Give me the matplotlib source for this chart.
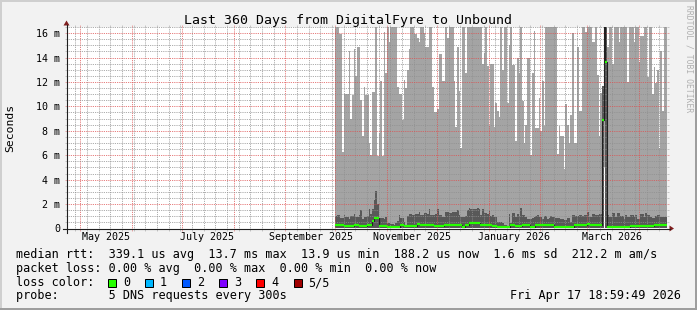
import numpy as np
import matplotlib
matplotlib.use("Agg")
import matplotlib.pyplot as plt
import matplotlib.dates as mdates
import matplotlib.transforms as mtransforms
from matplotlib.patches import Rectangle, Polygon
from matplotlib.lines import Line2D
from matplotlib.ticker import MultipleLocator, FixedLocator
from datetime import datetime

# ---------------- data ----------------
title = "Last 360 Days from DigitalFyre to Unbound"
end_time = datetime(2026, 4, 17, 18, 59, 49)
span_days = 360
data_start = datetime(2025, 10, 1)   # first daily bin

# max ping per day (outer smoke top), ms
rtt_max_ms = [
    16.5, 16.5, 15.9, 15.9, 6.3, 11.0, 11.0, 11.0, 14.5, 9.0,
    10.9, 14.7, 12.5, 14.9, 14.9, 10.5, 7.6, 11.6, 10.9, 10.9,
    7.0, 6.0, 11.2, 11.2, 16.5, 5.9, 7.8, 12.1, 5.9, 16.1,
    12.7, 16.5, 15.3, 16.5, 16.5, 16.5, 16.5, 11.6, 11.0, 11.0,
    8.9, 12.2, 11.5, 13.0, 14.7, 16.5, 16.5, 15.9, 15.9, 15.6,
    15.3, 16.5, 16.5, 16.0, 14.9, 14.9, 16.5, 16.5, 11.6, 9.5,
    9.5, 9.8, 14.3, 14.3, 12.1, 12.1, 16.5, 15.6, 16.5, 16.5,
    16.5, 12.1, 8.3, 14.9, 11.3, 6.6, 16.5, 16.5, 12.7, 16.5,
    16.5, 16.5, 16.5, 16.5, 16.5, 16.5, 16.5, 16.5, 13.5, 14.4,
    16.5, 13.3, 8.4, 13.5, 13.5, 8.3, 10.3, 9.6, 9.1, 16.5,
    13.0, 16.5, 16.5, 10.3, 15.0, 16.5, 13.4, 13.4, 7.2, 14.0,
    12.7, 16.5, 10.4, 7.0, 8.5, 14.0, 14.0, 6.0, 12.7, 16.2,
    8.2, 8.2, 10.7, 8.0, 12.1, 8.4, 16.5, 16.5, 16.5, 16.5,
    16.5, 16.5, 16.5, 6.1, 8.4, 7.6, 7.6, 4.9, 10.2, 8.5,
    7.0, 9.3, 16.0, 7.0, 7.0, 14.9, 9.6, 9.6, 16.5, 16.5,
    16.1, 16.5, 16.5, 16.5, 15.3, 15.3, 16.5, 12.6, 7.6, 11.1,
    11.7, 16.5, 16.5, 14.9, 16.5, 16.5, 13.5, 16.5, 16.5, 16.5,
    15.3, 16.5, 16.5, 16.5, 16.5, 12.0, 16.5, 16.5, 16.5, 15.3,
    16.5, 16.5, 13.6, 15.8, 15.8, 16.5, 16.5, 12.4, 16.5, 16.5,
    11.0, 13.2, 11.9, 13.0, 6.6, 14.5, 9.6, 16.5, 16.5,
]

# upper edge of the inner (dark) smoke band per day, ms
rtt_inner_ms = [
    1.01, 1.12, 1.10, 0.85, 0.85, 1.12, 0.93, 0.93, 0.79, 1.01,
    1.01, 1.20, 0.93, 0.93, 1.12, 1.48, 0.79, 0.93, 0.93, 1.01,
    1.61, 1.20, 1.56, 2.30, 3.04, 2.00, 0.79, 0.85, 0.85, 0.79,
    0.93, 0.46, 0.46, 0.38, 0.38, 0.30, 0.46, 0.60, 1.12, 0.85,
    0.85, 0.57, 0.30, 1.01, 1.20, 1.20, 1.12, 1.12, 1.20, 1.20,
    1.34, 1.12, 1.12, 1.29, 1.29, 1.20, 1.61, 1.12, 1.07, 1.07,
    1.20, 1.56, 1.07, 1.07, 0.93, 0.93, 1.39, 1.35, 1.29, 1.29,
    1.39, 1.39, 1.34, 1.48, 1.07, 0.95, 0.93, 0.93, 1.01, 1.48,
    1.66, 1.60, 1.56, 1.61, 1.61, 1.66, 1.56, 1.07, 1.61, 1.29,
    1.29, 1.20, 1.48, 1.01, 1.12, 0.93, 0.93, 0.52, 0.57, 0.57,
    0.46, 0.30, 0.30, 0.20, 1.20, 0.46, 1.29, 1.29, 0.93, 1.20,
    1.01, 1.66, 1.12, 1.12, 0.93, 0.79, 0.74, 0.79, 0.85, 0.93,
    1.01, 1.12, 0.93, 0.93, 0.79, 1.01, 1.01, 0.79, 0.85, 1.01,
    0.93, 0.93, 0.90, 0.85, 0.85, 0.79, 0.79, 0.68, 0.68, 0.85,
    0.85, 0.52, 1.12, 1.07, 1.01, 1.01, 1.12, 1.07, 1.01, 1.07,
    1.12, 1.34, 0.93, 0.93, 1.20, 1.20, 1.12, 1.12, 1.20, 1.20,
    11.7, 5.0, 16.5, 1.07, 0.93, 0.93, 1.29, 1.29, 0.93, 1.29,
    1.29, 1.01, 1.01, 0.79, 1.07, 0.93, 0.93, 1.12, 1.12, 0.93,
    1.07, 0.79, 0.79, 1.20, 1.20, 0.93, 1.29, 1.12, 1.12, 0.93,
    0.85, 0.85, 1.01, 1.07, 1.07, 0.93, 0.93, 0.93, 0.93,
]

# min ping per day (bottom of smoke), ms
rtt_min_ms = [0.0] * 161 + [5.0] + [0.0] * 37

# median rtt per day, ms
median_ms = [
    0.25, 0.25, 0.25, 0.25, 0.25, 0.19, 0.19, 0.19, 0.19, 0.19,
    0.19, 0.30, 0.30, 0.30, 0.19, 0.19, 0.19, 0.19, 0.19, 0.25,
    0.25, 0.25, 0.60, 0.88, 0.88, 0.85, 0.19, 0.19, 0.19, 0.19,
    0.19, 0.14, 0.14, 0.14, 0.14, 0.14, 0.14, 0.14, 0.14, 0.25,
    0.25, 0.19, 0.19, 0.19, 0.19, 0.19, 0.19, 0.19, 0.19, 0.36,
    0.36, 0.25, 0.25, 0.25, 0.25, 0.30, 0.30, 0.30, 0.30, 0.22,
    0.22, 0.22, 0.22, 0.22, 0.22, 0.30, 0.30, 0.25, 0.25, 0.25,
    0.25, 0.25, 0.25, 0.25, 0.25, 0.25, 0.14, 0.14, 0.30, 0.30,
    0.46, 0.46, 0.44, 0.44, 0.44, 0.44, 0.44, 0.30, 0.30, 0.30,
    0.25, 0.25, 0.25, 0.25, 0.19, 0.19, 0.19, 0.14, 0.14, 0.14,
    0.14, 0.14, 0.14, 0.14, 0.14, 0.30, 0.30, 0.30, 0.19, 0.19,
    0.19, 0.19, 0.25, 0.25, 0.25, 0.25, 0.25, 0.14, 0.14, 0.14,
    0.25, 0.25, 0.25, 0.25, 0.25, 0.25, 0.25, 0.25, 0.25, 0.25,
    0.25, 0.14, 0.14, 0.14, 0.14, 0.14, 0.14, 0.14, 0.14, 0.14,
    0.14, 0.14, 0.14, 0.30, 0.30, 0.30, 0.30, 0.30, 0.30, 0.30,
    0.30, 0.38, 0.38, 0.25, 0.25, 0.25, 0.25, 0.25, 0.25, 0.25,
    8.9, 17.0, 13.6, 0.16, 0.16, 0.16, 0.16, 0.16, 0.16, 0.16,
    0.16, 0.16, 0.16, 0.16, 0.16, 0.16, 0.16, 0.22, 0.22, 0.22,
    0.22, 0.22, 0.22, 0.22, 0.22, 0.22, 0.22, 0.22, 0.22, 0.22,
    0.22, 0.25, 0.25, 0.25, 0.25, 0.25, 0.25, 0.25, 0.25,
]

y_ticks = [0, 2, 4, 6, 8, 10, 12, 14, 16]
y_tick_labels = ["0", "2 m", "4 m", "6 m", "8 m", "10 m", "12 m", "14 m", "16 m"]
y_top = 16.5
month_labels = ["May 2025", "July 2025", "September 2025", "November 2025",
                "January 2026", "March 2026"]
month_label_starts = [datetime(2025, 5, 1), datetime(2025, 7, 1), datetime(2025, 9, 1),
                      datetime(2025, 11, 1), datetime(2026, 1, 1), datetime(2026, 3, 1)]

legend_rows = [
    "median rtt:  339.1 us avg  13.7 ms max  13.9 us min  188.2 us now  1.6 ms sd  212.2 m am/s",
    "packet loss: 0.00 % avg  0.00 % max  0.00 % min  0.00 % now",
    "loss color:",
    "probe:       5 DNS requests every 300s",
]
loss_labels = ["0", "1", "2", "3", "4", "5/5"]
loss_colors = ["#26ff00", "#00b8ff", "#0059ff", "#7e00ff", "#ff0000", "#a00000"]
timestamp = "Fri Apr 17 18:59:49 2026"
watermark = "RRDTOOL / TOBI OETIKER"

# ---------------- drawing ----------------
W, H = 697, 310
MONO = "DejaVu Sans Mono"
plt.rcParams["font.family"] = [MONO]

def fx(x):
    return x / W

def fy(y):
    return 1 - y / H

fig = plt.figure(figsize=(W / 100, H / 100), dpi=100, facecolor="#f2f2f2")

# 3D border
for (x0, y0, w, h, c) in [(0, 0, W, 2, "#cfcfcf"), (0, 0, 2, H, "#cfcfcf"),
                          (0, H - 2, W, 2, "#9e9e9e"), (W - 2, 0, 2, H, "#9e9e9e")]:
    fig.patches.append(Rectangle((fx(x0), fy(y0 + h)), w / W, h / H,
                                 transform=fig.transFigure, color=c, lw=0))

ax_l, ax_r, ax_t, ax_b = 66.5, 666.5, 27.0, 228.5
ax = fig.add_axes([fx(ax_l), fy(ax_b), (ax_r - ax_l) / W, (ax_b - ax_t) / H])
ax.set_facecolor("white")
for s in ax.spines.values():
    s.set_visible(False)

n = len(rtt_max_ms)
x0 = mdates.date2num(data_start)
edges = x0 + np.arange(n + 1)

def stepv(a):
    a = np.asarray(a, dtype=float)
    return np.append(a, a[-1])

lo = np.asarray(rtt_min_ms, float)
ax.fill_between(edges, stepv(lo), stepv(rtt_max_ms), step="post",
                color="#a4a4a4", lw=0, zorder=1)
ax.fill_between(edges, stepv(lo), stepv(np.maximum(rtt_inner_ms, lo)), step="post",
                color="#585858", lw=0, zorder=1.1)
# median: thin dark line then loss-colour band
ax.step(edges, stepv(median_ms), where="post", color="#202020", lw=0.8, zorder=2.6)
ax.hlines(median_ms, edges[:-1], edges[1:], color=loss_colors[0], lw=1.6, zorder=2.7)

t_end = mdates.date2num(end_time)
ax.set_xlim(t_end - span_days, t_end)
ax.set_ylim(0, y_top)

ax.xaxis.set_major_locator(mdates.MonthLocator())
ax.xaxis.set_minor_locator(mdates.WeekdayLocator(byweekday=mdates.MO))
ax.yaxis.set_major_locator(FixedLocator(y_ticks))
ax.yaxis.set_minor_locator(MultipleLocator(0.5))
ax.set_yticklabels(y_tick_labels)

mcol = (0.87, 0.31, 0.31, 0.45)
gcol = (0.56, 0.56, 0.56, 0.45)
ax.set_axisbelow(False)
ax.grid(which="major", color=mcol, linestyle=(0, (1, 1.2)), linewidth=0.6)
ax.grid(which="minor", color=gcol, linestyle=(0, (1, 1.2)), linewidth=0.6)
ax.tick_params(which="major", direction="out", length=1.6, width=0.72, color=mcol,
               labelsize=7.2, pad=3.0, left=True, right=True, top=True, bottom=True,
               labelbottom=False, labeltop=False, labelright=False)
ax.tick_params(which="minor", direction="out", length=1.44, width=0.72, color=gcol,
               left=True, right=True, top=True, bottom=True)

# month labels (centered mid-month)
lab_tr = mtransforms.blended_transform_factory(ax.transData, fig.transFigure)
for lab, st in zip(month_labels, month_label_starts):
    ax.text(mdates.date2num(st) + 15.2, fy(240.5), lab, fontsize=7.2, ha="center",
            va="baseline", transform=lab_tr)

# axes lines and arrows
axis_c = "#1f1f1f"
arrow_c = "#801f1f"
fig.add_artist(Line2D([fx(62.5), fx(669.5)], [fy(228.5), fy(228.5)], color=axis_c, lw=0.8,
                      transform=fig.transFigure))
fig.add_artist(Line2D([fx(66.5), fx(66.5)], [fy(232.5), fy(24.5)], color=axis_c, lw=0.8,
                      transform=fig.transFigure))
fig.add_artist(Polygon([(fx(669.5), fy(225.5)), (fx(674.0), fy(228.5)), (fx(669.5), fy(231.5))],
                       closed=True, color=arrow_c, transform=fig.transFigure, lw=0))
fig.add_artist(Polygon([(fx(63.5), fy(25.5)), (fx(66.5), fy(20.5)), (fx(69.5), fy(25.5))],
                       closed=True, color=arrow_c, transform=fig.transFigure, lw=0))

# texts
fig.text(fx(348.5), fy(24), title, fontsize=9.5, ha="center", va="baseline")
fig.text(fx(10.5), fy(127.5), "Seconds", fontsize=8.2, rotation=90, ha="center", va="center")
fig.text(fx(688.5), fy(5), watermark, fontsize=5.8, rotation=270, ha="center", va="top",
         color="#b0b0b0")

row_base = [258, 272, 286, 299.5]
for txt, yb in zip(legend_rows, row_base):
    fig.text(fx(16), fy(yb), txt, fontsize=8.45, ha="left", va="baseline")
for i, (lab, col) in enumerate(zip(loss_labels, loss_colors)):
    bx = 108 + 37.1 * i
    fig.patches.append(Rectangle((fx(bx), fy(286.5)), 8 / W, 8 / H, transform=fig.transFigure,
                                 facecolor=col, edgecolor="black", lw=0.72))
    fig.text(fx(bx + 15), fy(286), lab, fontsize=8.45, ha="left", va="baseline")
fig.text(fx(680.5), fy(299.5), timestamp, fontsize=8.45, ha="right", va="baseline")

fig.savefig("out.png", dpi=100, facecolor=fig.get_facecolor())
